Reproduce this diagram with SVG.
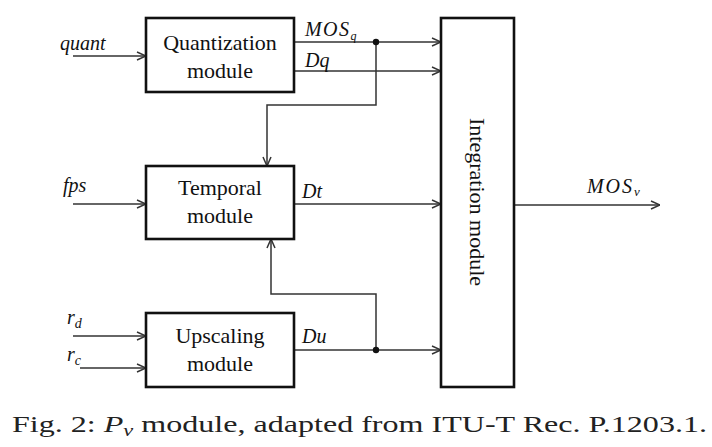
<svg xmlns="http://www.w3.org/2000/svg" width="712" height="447" viewBox="0 0 712 447">
<style>
.box{fill:#fff;stroke:#111;stroke-width:2.6}
.ln{fill:none;stroke:#333;stroke-width:1.5}
.t{font-family:"Liberation Serif","Times New Roman",serif;font-size:22px;fill:#111;text-anchor:middle}
.it{font-family:"Liberation Serif","Times New Roman",serif;font-style:italic;font-size:20px;fill:#111}
.cap{font-family:"Liberation Serif","Times New Roman",serif;font-size:23px;fill:#222}
</style>
<defs>
<marker id="arr" viewBox="0 0 10 10" refX="10" refY="5" markerWidth="10" markerHeight="10" markerUnits="userSpaceOnUse" orient="auto">
<polyline points="1,1 10,5 1,9" fill="none" stroke="#333" stroke-width="1.5"/>
</marker>
</defs>
<rect width="712" height="447" fill="#fff"/>
<g id="connectors">
<line class="ln" x1="73" y1="56" x2="146" y2="56" marker-end="url(#arr)"/>
<line class="ln" x1="73" y1="204" x2="146" y2="204" marker-end="url(#arr)"/>
<line class="ln" x1="73" y1="336" x2="146" y2="336" marker-end="url(#arr)"/>
<line class="ln" x1="80" y1="368" x2="146" y2="368" marker-end="url(#arr)"/>
<line class="ln" x1="294" y1="42" x2="441" y2="42" marker-end="url(#arr)"/>
<line class="ln" x1="294" y1="71" x2="441" y2="71" marker-end="url(#arr)"/>
<line class="ln" x1="294" y1="204" x2="441" y2="204" marker-end="url(#arr)"/>
<line class="ln" x1="294" y1="350" x2="441" y2="350" marker-end="url(#arr)"/>
<polyline class="ln" points="376,42 376,105 267,105 267,166" marker-end="url(#arr)"/>
<polyline class="ln" points="376,350 376,294 271,294 271,239" marker-end="url(#arr)"/>
<line class="ln" x1="514" y1="205" x2="660" y2="205" marker-end="url(#arr)"/>
<circle cx="376" cy="42" r="3.2" fill="#111"/>
<circle cx="376" cy="350" r="3.2" fill="#111"/>
</g>
<g id="labels">
<text class="it" x="60" y="50">quant</text>
<text class="it" x="63" y="192">fps</text>
<text class="it" x="67" y="324">r<tspan font-size="14" dy="4">d</tspan></text>
<text class="it" x="67" y="361">r<tspan font-size="14" dy="4">c</tspan></text>
<text class="it" x="305" y="36" font-size="18"><tspan textLength="44" lengthAdjust="spacing">MOS</tspan><tspan font-size="12" dy="4">q</tspan></text>
<text class="it" x="305" y="67">Dq</text>
<text class="it" x="302" y="198">Dt</text>
<text class="it" x="302" y="343">Du</text>
<text class="it" x="587" y="193" font-size="18"><tspan textLength="45" lengthAdjust="spacing">MOS</tspan><tspan font-size="13" dy="3">v</tspan></text>
</g>
<g id="quantization">
<rect class="box" x="146" y="18" width="148" height="74"/>
<text class="t" x="220" y="50">Quantization</text>
<text class="t" x="220" y="78">module</text>
</g>
<g id="temporal">
<rect class="box" x="146" y="166" width="148" height="73"/>
<text class="t" x="220" y="195">Temporal</text>
<text class="t" x="220" y="223">module</text>
</g>
<g id="upscaling">
<rect class="box" x="146" y="313" width="148" height="74"/>
<text class="t" x="220" y="343">Upscaling</text>
<text class="t" x="220" y="371">module</text>
</g>
<g id="integration">
<rect class="box" x="441" y="18" width="73" height="369"/>
<text class="t" transform="translate(470,202) rotate(90)" x="0" y="0">Integration module</text>
</g>
<text class="cap" x="12" y="432" textLength="695" lengthAdjust="spacingAndGlyphs">Fig. 2: <tspan font-style="italic">P</tspan><tspan font-style="italic" font-size="16" dy="4">v</tspan><tspan dy="-4"> module, adapted from ITU-T Rec. P.1203.1.</tspan></text>
</svg>
